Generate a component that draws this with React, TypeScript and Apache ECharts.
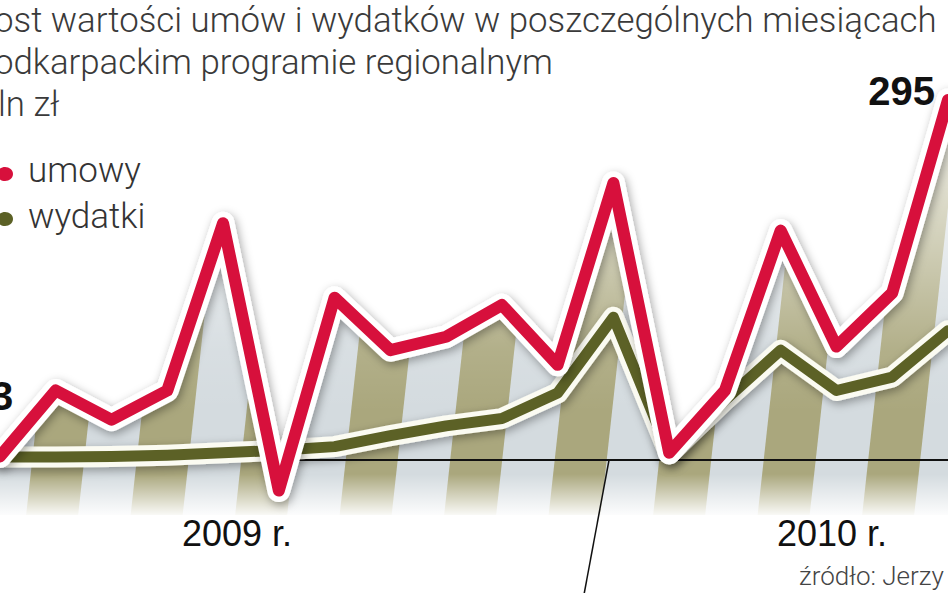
import React, { useEffect, useRef } from "react";
import * as echarts from "echarts";

// Months shown on the chart (18 monthly observations)
const months = [
  "2008-09", "2008-10", "2008-11", "2008-12", "2009-01", "2009-02",
  "2009-03", "2009-04", "2009-05", "2009-06", "2009-07", "2009-08",
  "2009-09", "2009-10", "2009-11", "2009-12", "2010-01", "2010-02",
];

// Tick labels printed under the axis
const xTickLabels = [
  "", "", "", "", "2009 r.", "", "", "", "", "", "", "", "", "", "", "2010 r.", "", "",
];

// mln zł
const umowy = [3, 57, 33, 57, 194, -25, 133, 90, 101, 127, 78, 227, 6, 57, 188, 93, 137, 295];
const wydatki = [2.5, 2.5, 3, 4, 6, 8, 11, 20, 28, 34, 55, 117, 5, 49, 90, 57, 68, 106];

const legendNames = ["umowy", "wydatki"];

const titleLines = [
  "ost wartości umów i wydatków w poszczególnych miesiącach",
  "odkarpackim programie regionalnym",
  "ln zł",
];
const sourceText = "źródło: Jerzy";

const RED = "#d7103c";
const OLIVE = "#5c6126";

function makeStripeTile(): string {
  const W = 209;
  const H = 593;
  const c = document.createElement("canvas");
  c.width = W;
  c.height = H;
  const ctx = c.getContext("2d");
  if (!ctx) return "";
  ctx.fillStyle = "#d4dbdf";
  ctx.fillRect(0, 0, W, H);
  ctx.fillStyle = "#aaa77d";
  const period = 104.5;
  const bandW = 52;
  const phase = 30;
  const slope = 0.11;
  const refY = 480;
  for (let k = -3; k <= 4; k++) {
    const x0 = phase + k * period;
    ctx.beginPath();
    ctx.moveTo(x0 + slope * refY, 0);
    ctx.lineTo(x0 + slope * refY + bandW, 0);
    ctx.lineTo(x0 + slope * (refY - H) + bandW, H);
    ctx.lineTo(x0 + slope * (refY - H), H);
    ctx.closePath();
    ctx.fill();
  }
  return c.toDataURL();
}

export default function App() {
  const ref = useRef<HTMLDivElement>(null);

  useEffect(() => {
    if (!ref.current) return;
    const chart = echarts.init(ref.current, null, { renderer: "svg" });
    const tile = makeStripeTile();

    const labelFont = '"Liberation Sans", "Roboto", sans-serif';
    const lightFont = '"Roboto", "Open Sans", sans-serif';

    const outlineShadow = {
      shadowBlur: 10,
      shadowColor: "rgba(0,0,0,0.35)",
      shadowOffsetX: 2,
      shadowOffsetY: 3,
    };

    const last = umowy.length - 1;
    const endLabel = {
      show: true,
      fontFamily: labelFont,
      fontWeight: "bold",
      fontSize: 40,
      color: "#111",
    };
    const umowyData = umowy.map((v, i) => {
      if (i === 0) {
        return {
          value: v,
          label: { ...endLabel, position: "top", distance: 0, offset: [2, -39], formatter: String(v) },
        };
      }
      if (i === last) {
        return {
          value: v,
          label: { ...endLabel, position: "left", distance: 12, offset: [0, -9], formatter: String(v) },
        };
      }
      return v;
    });

    const base = {
      type: "line",
      smooth: false,
      showSymbol: false,
      silent: true,
      emphasis: { disabled: true },
    };

    const titleFont = "300 34.8px " + lightFont;
    const legendFont = "300 35px " + lightFont;

    const option = {
      animation: false,
      backgroundColor: "#ffffff",
      grid: { left: 0, right: 0, top: 45, bottom: 78, containLabel: false, outerBoundsMode: "none" },
      xAxis: {
        type: "category",
        data: months,
        boundaryGap: false,
        z: 1.5,
        axisLine: { show: true, onZero: true, lineStyle: { color: "#111", width: 2 } },
        axisTick: { show: false },
        splitLine: { show: false },
        axisLabel: {
          interval: 0,
          margin: 0,
          formatter: (_v: string, i: number) => {
            const t = xTickLabels[i];
            if (!t) return "";
            return i < 10 ? "{a|" + t + "}" : "{b|" + t + "}";
          },
          rich: {
            a: { fontFamily: labelFont, fontSize: 36, color: "#111", padding: [0, 0, 0, 28] },
            b: { fontFamily: labelFont, fontSize: 36, color: "#111", padding: [0, 9, 0, 0] },
          },
        },
      },
      yAxis: {
        type: "value",
        min: -45,
        max: 340,
        show: false,
        splitLine: { show: false },
      },
      series: [
        {
          ...base,
          name: "umowy-tlo",
          data: umowy,
          z: 1,
          lineStyle: { width: 0, opacity: 0 },
          areaStyle: {
            origin: "start",
            opacity: 1,
            color: { image: tile, repeat: "repeat", imageWidth: 209, imageHeight: 593 },
          },
        },
        {
          ...base,
          name: "umowy-mgla",
          data: umowy,
          z: 1.1,
          lineStyle: { width: 0, opacity: 0 },
          areaStyle: {
            origin: "start",
            opacity: 1,
            color: {
              type: "linear",
              x: 0,
              y: 0,
              x2: 0,
              y2: 1,
              colorStops: [
                { offset: 0, color: "rgba(255,255,255,0.88)" },
                { offset: 0.35, color: "rgba(255,255,255,0.45)" },
                { offset: 0.6, color: "rgba(255,255,255,0.1)" },
                { offset: 0.75, color: "rgba(255,255,255,0)" },
                { offset: 1, color: "rgba(255,255,255,0)" },
              ],
            },
          },
        },
        {
          ...base,
          name: "wydatki-obrys",
          data: wydatki,
          z: 2,
          lineStyle: { width: 21, color: "#fbfbf2", join: "round", cap: "round", ...outlineShadow },
        },
        {
          ...base,
          name: "wydatki",
          data: wydatki,
          z: 3,
          itemStyle: { color: OLIVE },
          lineStyle: { width: 11, color: OLIVE, join: "round", cap: "round" },
        },
        {
          ...base,
          name: "umowy-obrys",
          data: umowy,
          z: 4,
          lineStyle: { width: 23, color: "#ffffff", join: "round", cap: "round", ...outlineShadow },
        },
        {
          ...base,
          name: "umowy",
          data: umowyData,
          z: 5,
          showSymbol: true,
          showAllSymbol: true,
          symbol: "circle",
          symbolSize: 2,
          itemStyle: { color: RED },
          lineStyle: { width: 12, color: RED, join: "round", cap: "round" },
        },
      ],
      graphic: [
        {
          type: "rect",
          z: 1.2,
          silent: true,
          shape: { x: 0, y: 474, width: 948, height: 44 },
          style: {
            fill: {
              type: "linear",
              x: 0,
              y: 0,
              x2: 0,
              y2: 1,
              colorStops: [
                { offset: 0, color: "rgba(255,255,255,0)" },
                { offset: 1, color: "rgba(255,255,255,1)" },
              ],
            },
          },
        },
        {
          type: "text",
          left: -6,
          top: 2,
          style: { text: titleLines[0], font: titleFont, fill: "#3a3a3a" },
        },
        {
          type: "text",
          left: -6,
          top: 44,
          style: { text: titleLines[1], font: titleFont, fill: "#3a3a3a" },
        },
        {
          type: "text",
          left: -2,
          top: 86,
          style: { text: titleLines[2], font: titleFont, fill: "#3a3a3a" },
        },
        {
          type: "ellipse",
          shape: { cx: 5, cy: 174, rx: 8, ry: 7 },
          style: { fill: RED },
        },
        {
          type: "text",
          style: { x: 28, y: 170, text: legendNames[0], font: legendFont, fill: "#333", verticalAlign: "middle" },
        },
        {
          type: "ellipse",
          shape: { cx: 5, cy: 219, rx: 8, ry: 7 },
          style: { fill: OLIVE },
        },
        {
          type: "text",
          style: { x: 28, y: 216, text: legendNames[1], font: legendFont, fill: "#333", verticalAlign: "middle" },
        },
        {
          type: "text",
          left: 799,
          top: 563,
          style: { text: sourceText, font: "300 26px " + lightFont, fill: "#444" },
        },
        {
          type: "line",
          z: 10,
          shape: { x1: 609, y1: 460, x2: 583, y2: 600 },
          style: { stroke: "#111", lineWidth: 1.5 },
        },
      ],
    };

    chart.setOption(option as any);
    return () => chart.dispose();
  }, []);

  return (
    <div
      ref={ref}
      style={{ position: "absolute", left: 0, top: 0, width: 948, height: 593, background: "#fff" }}
    />
  );
}
